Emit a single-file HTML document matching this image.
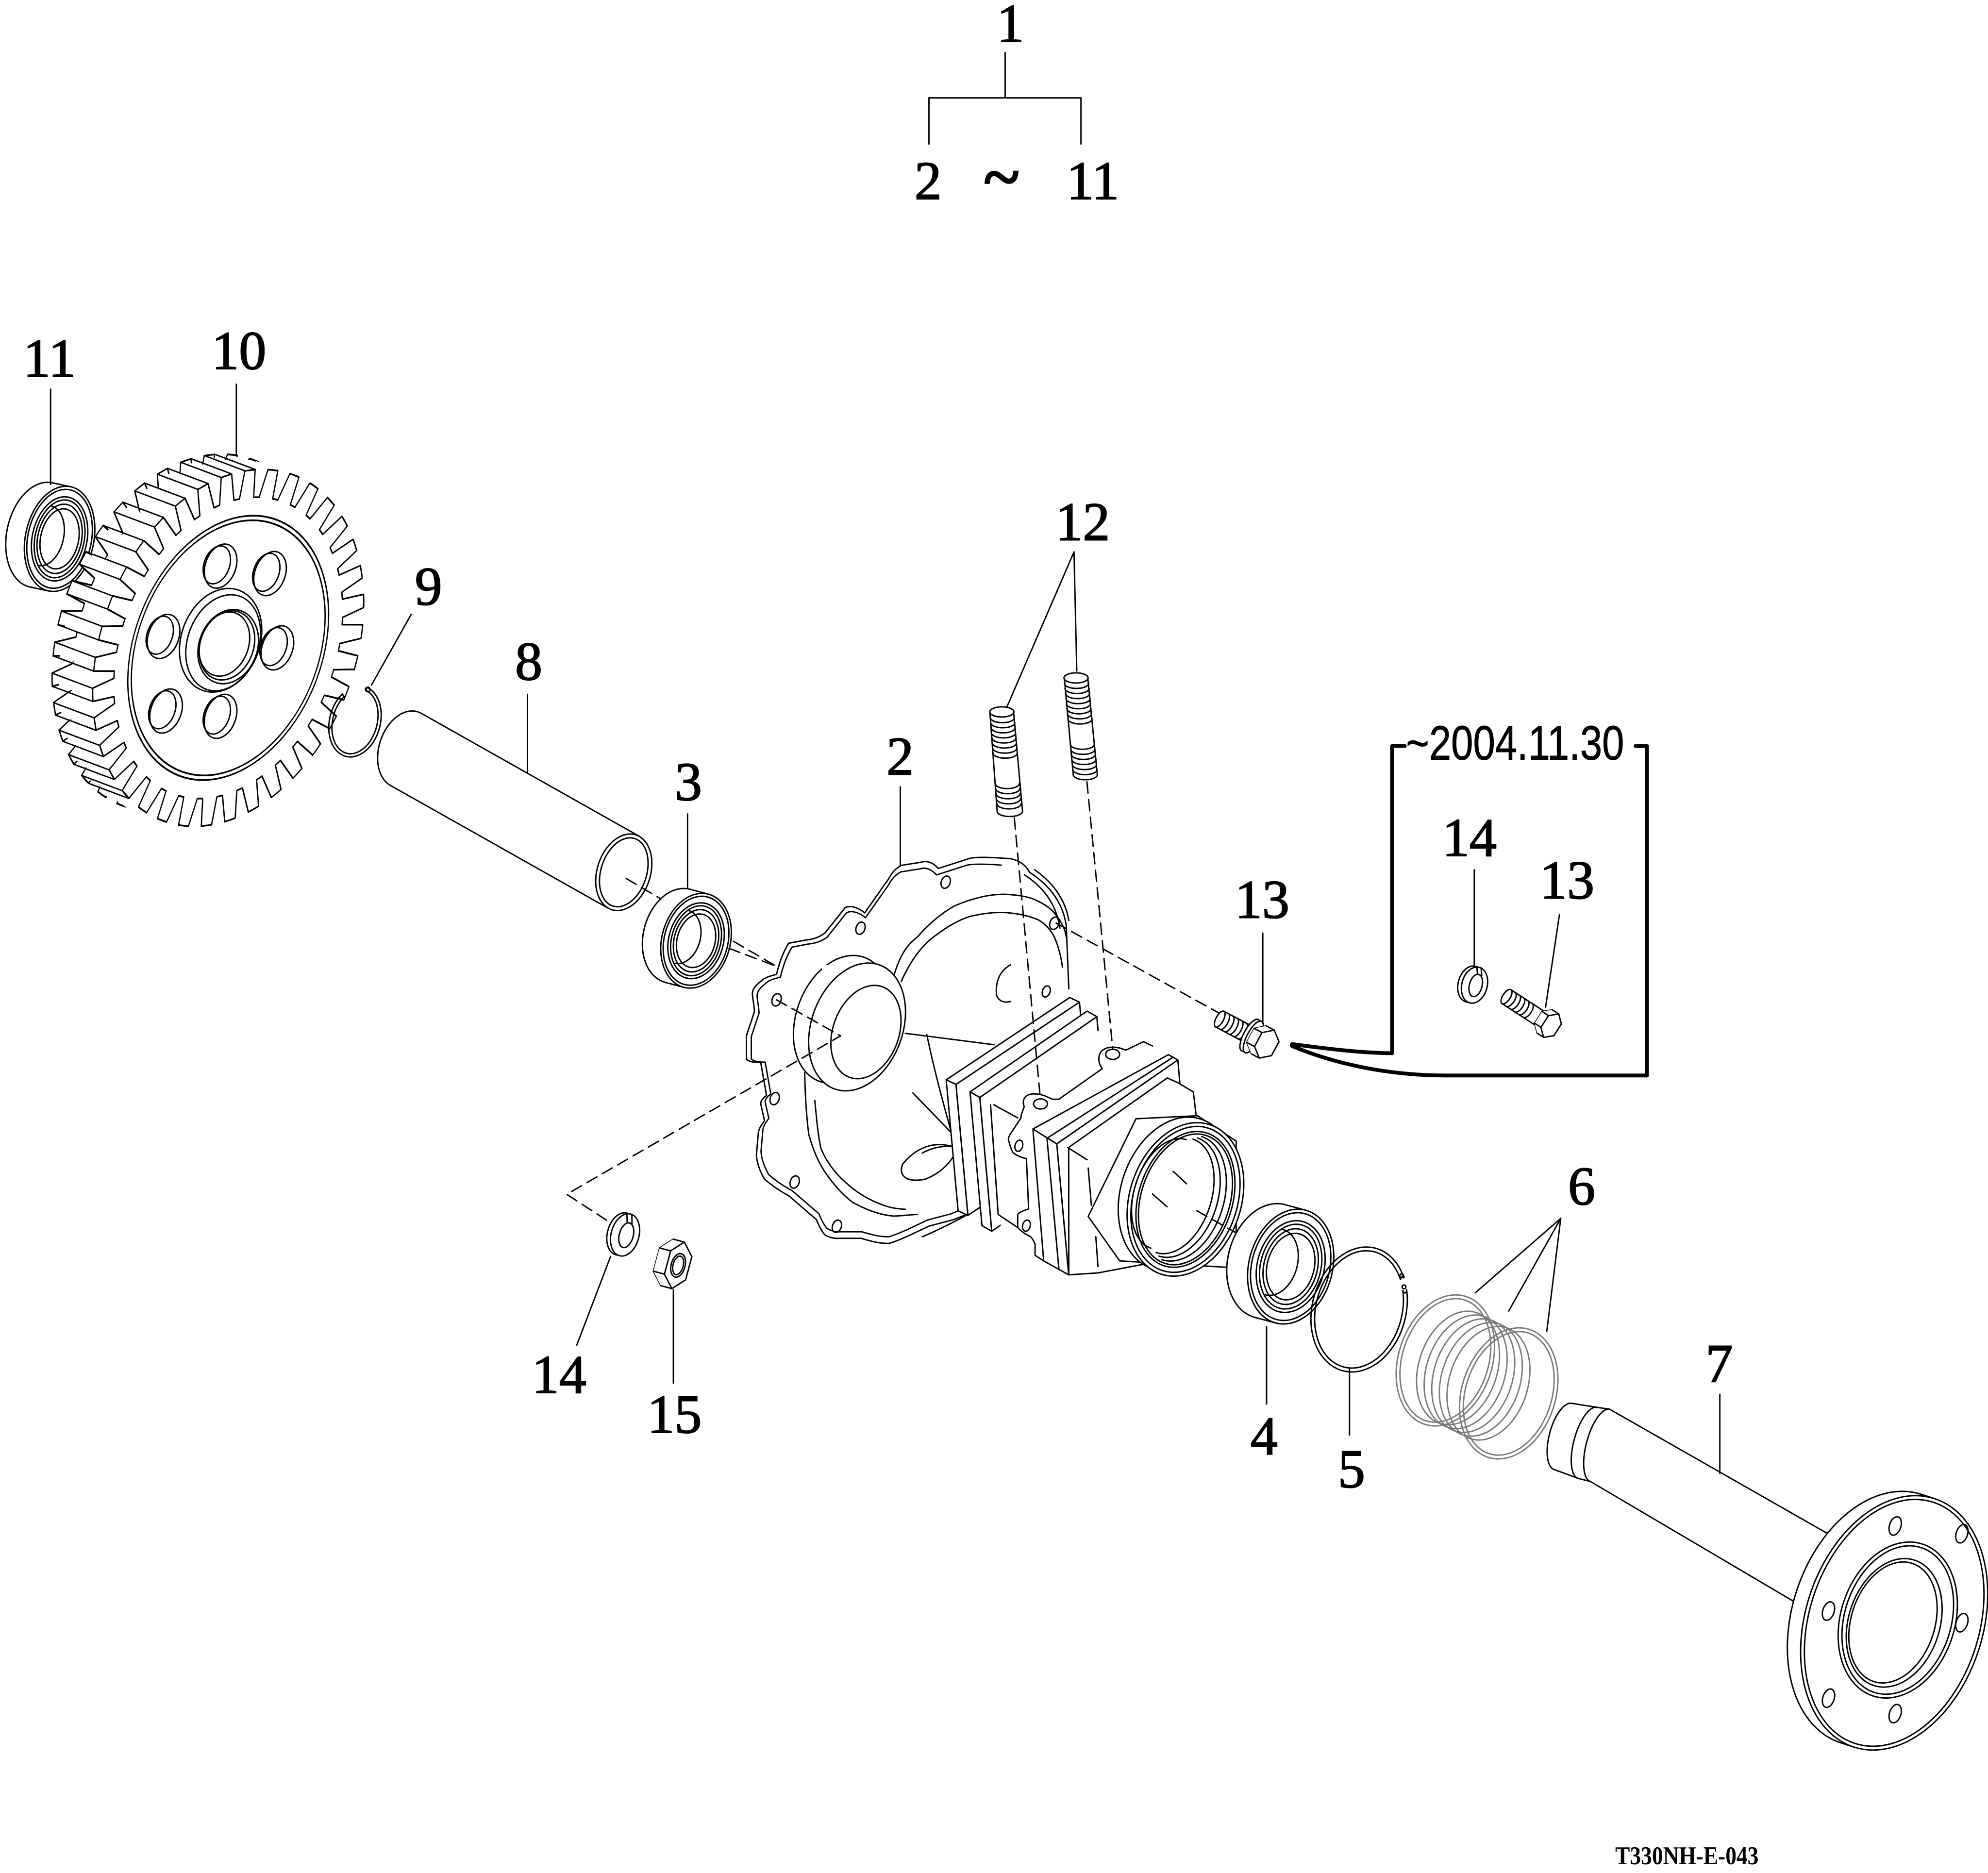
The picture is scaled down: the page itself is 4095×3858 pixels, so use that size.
<!DOCTYPE html>
<html><head><meta charset="utf-8">
<style>
html,body{margin:0;padding:0;background:#fff;}
svg{display:block;}
.t{font-family:"Liberation Serif",serif;font-size:43px;fill:#000;stroke:#000;stroke-width:0.8;text-anchor:middle;}
</style></head><body>
<svg width="4095" height="3858" viewBox="0 0 1568 1477.3" preserveAspectRatio="none" xmlns="http://www.w3.org/2000/svg">
<defs>
<path id="tooth" d="M113.57,-9.94A114,114 0 0 1 113.78,-7.16L134.90,-5.18A135,135 0 0 1 134.90,5.18L113.78,7.16A114,114 0 0 1 113.57,9.94"/>
<g id="teeth">
<use href="#tooth"/><use href="#tooth" transform="rotate(10)"/><use href="#tooth" transform="rotate(20)"/><use href="#tooth" transform="rotate(30)"/><use href="#tooth" transform="rotate(40)"/><use href="#tooth" transform="rotate(50)"/><use href="#tooth" transform="rotate(60)"/><use href="#tooth" transform="rotate(70)"/><use href="#tooth" transform="rotate(80)"/><use href="#tooth" transform="rotate(90)"/><use href="#tooth" transform="rotate(100)"/><use href="#tooth" transform="rotate(110)"/><use href="#tooth" transform="rotate(120)"/><use href="#tooth" transform="rotate(130)"/><use href="#tooth" transform="rotate(140)"/><use href="#tooth" transform="rotate(150)"/><use href="#tooth" transform="rotate(160)"/><use href="#tooth" transform="rotate(170)"/><use href="#tooth" transform="rotate(180)"/><use href="#tooth" transform="rotate(190)"/><use href="#tooth" transform="rotate(200)"/><use href="#tooth" transform="rotate(210)"/><use href="#tooth" transform="rotate(220)"/><use href="#tooth" transform="rotate(230)"/><use href="#tooth" transform="rotate(240)"/><use href="#tooth" transform="rotate(250)"/><use href="#tooth" transform="rotate(260)"/><use href="#tooth" transform="rotate(270)"/><use href="#tooth" transform="rotate(280)"/><use href="#tooth" transform="rotate(290)"/><use href="#tooth" transform="rotate(300)"/><use href="#tooth" transform="rotate(310)"/><use href="#tooth" transform="rotate(320)"/><use href="#tooth" transform="rotate(330)"/><use href="#tooth" transform="rotate(340)"/><use href="#tooth" transform="rotate(350)"/>
</g>
<path id="flange" d="M793,677 C780,676 770,676 765,677 L740,685 C735,679 729,679 727,680 L711,682.5 C706,685 703,689 701,693 L682,720 C676,715 670,714 666.5,716 L650.6,736 C645,740 640,741 634.7,741.6 L622,744 C617,752 614,762 612.5,768.5 C607,770 603,771 600,774 C595,778 593,781 593.5,785 C594,790 595,794 595,798 L588.7,817 L588.7,835.6 C592,838 596,838 600,838 L604.6,864 C602,866 600,868 600,870.6 L603,884 C600,888 598,891 598,895 L596.6,911 C597,918 600,925 603,930 C610,936 616,940 622,943 L644,962 C646,967 648,971 650.6,974 C654,976 658,977 661.7,976.7 L679,976.7 C687,979 694,981 701.4,980.7 C713,977 724,971 733,967 L752,962 L762,958"/>
</defs>
<rect x="0" y="0" width="1568" height="1477.3" fill="#fff"/>

<g fill="none" stroke="#000" stroke-width="1.1" stroke-linejoin="round" stroke-linecap="round">

<!-- top bracket -->
<path d="M792.8,41.5V77.2M732.7,113.6V77.2H852.6V113.6"/>

<!-- Bearing 11 -->
<g transform="translate(47,425) rotate(12)">
<ellipse cx="-15" rx="27" ry="42" fill="#fff"/>
<rect x="-15" y="-42" width="15" height="84" fill="#fff" stroke="none"/>
<path d="M-15,-42H0M-15,42H0"/>
<ellipse rx="27" ry="42" fill="#fff"/>
<ellipse rx="25.1" ry="39.5"/>
<ellipse rx="21.6" ry="33.6"/>
<ellipse rx="19.4" ry="31.1"/>
<ellipse rx="17.3" ry="27.7"/>
<ellipse rx="15" ry="24"/>
<path d="M-12,-24A15,24 0 0 1 -12,24"/>
</g>

<!-- Gear 10 back -->
<g transform="translate(148,499) rotate(21) scale(0.74,1.08)" fill="#fff" stroke-width="1.3">
<circle r="114.5" stroke="none"/><use href="#teeth"/>
</g>
<g fill="#fff" stroke="none">
<g transform="translate(153.3,501) rotate(21) scale(0.74,1.08)"><circle r="114.5"/><use href="#teeth"/></g>
<g transform="translate(158.7,503) rotate(21) scale(0.74,1.08)"><circle r="114.5"/><use href="#teeth"/></g>
<g transform="translate(164,505) rotate(21) scale(0.74,1.08)"><circle r="114.5"/><use href="#teeth"/></g>
<g transform="translate(169.3,507) rotate(21) scale(0.74,1.08)"><circle r="114.5"/><use href="#teeth"/></g>
<g transform="translate(174.7,509) rotate(21) scale(0.74,1.08)"><circle r="114.5"/><use href="#teeth"/></g>
</g>
<path d="M96.3,623.6l-32,-12M101.7,629.8l-32,-12M86.0,607.2l-32,-12M90.2,614.8l-32,-12M78.5,587.9l-32,-12M81.5,596.7l-32,-12M74.2,566.2l-32,-12M75.7,576.0l-32,-12M73.0,542.9l-32,-12M73.2,553.3l-32,-12M75.2,518.5l-32,-12M73.8,529.3l-32,-12M80.5,494.0l-32,-12M77.8,504.8l-32,-12M88.7,470.0l-32,-12M84.7,480.4l-32,-12M99.8,447.2l-32,-12M94.6,457.0l-32,-12M113.3,426.4l-32,-12M107.1,435.2l-32,-12M128.9,408.1l-32,-12M121.9,415.7l-32,-12M145.9,393.0l-32,-12M138.3,399.2l-32,-12M164.1,381.4l-32,-12M156.1,386.0l-32,-12M182.7,373.8l-32,-12M174.5,376.6l-32,-12M201.3,370.3l-32,-12M193.1,371.3l-32,-12"/>
<!-- Gear front -->
<g transform="translate(180,511) rotate(21) scale(0.74,1.08)" fill="#fff" stroke-width="1.3">
<circle r="114.5" stroke="none"/><use href="#teeth"/>
<circle r="100" fill="none"/><circle r="96.5" fill="none"/>
</g>
<!-- gear holes -->
<g>
<ellipse cx="174" cy="446.5" rx="12" ry="18" transform="rotate(20 174 446.5)"/>
<ellipse cx="171" cy="445.5" rx="10" ry="15.5" transform="rotate(20 171 445.5)"/>
<ellipse cx="213" cy="452.4" rx="12" ry="18" transform="rotate(20 213 452.4)"/>
<ellipse cx="210" cy="451.4" rx="10" ry="15.5" transform="rotate(20 210 451.4)"/>
<ellipse cx="129" cy="502" rx="12" ry="18" transform="rotate(20 129 502)"/>
<ellipse cx="126" cy="501" rx="10" ry="15.5" transform="rotate(20 126 501)"/>
<ellipse cx="218.8" cy="511" rx="12" ry="18" transform="rotate(20 218.8 511)"/>
<ellipse cx="215.8" cy="510" rx="10" ry="15.5" transform="rotate(20 215.8 510)"/>
<ellipse cx="131" cy="560.8" rx="12" ry="18" transform="rotate(20 131 560.8)"/>
<ellipse cx="128" cy="559.8" rx="10" ry="15.5" transform="rotate(20 128 559.8)"/>
<ellipse cx="174" cy="565" rx="12" ry="18" transform="rotate(20 174 565)"/>
<ellipse cx="171" cy="564" rx="10" ry="15.5" transform="rotate(20 171 564)"/>
</g>
<!-- hub -->
<ellipse cx="174" cy="505" rx="31" ry="42" transform="rotate(20 174 505)" fill="#fff"/>
<ellipse cx="176" cy="507" rx="28" ry="39" transform="rotate(20 176 507)"/>
<ellipse cx="180" cy="510" rx="23" ry="30" transform="rotate(20 180 510)"/>
<ellipse cx="179" cy="509" rx="21" ry="28" transform="rotate(20 179 509)"/>
<ellipse cx="177" cy="508" rx="19" ry="26" transform="rotate(20 177 508)"/>

<!-- Ring 9 -->
<g transform="translate(280,569) rotate(15)">
<path d="M2.09,-28.34A20,28.5 0 1 1 -15.32,-18.32"/>
<path d="M1.83,-25.86A17.5,26 0 1 1 -13.4,-16.71"/>
<path d="M2.09,-28.34L1.83,-25.86M-15.32,-18.32L-13.4,-16.71"/>
<circle cx="3.2" cy="-27" r="1.8"/>
</g>

<!-- Tube 8 -->
<path d="M332.2,562.6L504.2,659.6M307.8,619.4L479.8,716.4"/>
<path d="M332.2,562.6A21,31 18 0 0 307.8,619.4"/>
<ellipse cx="492" cy="688" rx="21" ry="31" transform="rotate(18 492 688)"/>
<ellipse cx="492" cy="688" rx="18" ry="28" transform="rotate(18 492 688)"/>

<!-- dashed axis (behind bearing 3) -->
<path d="M494,693L612,762" stroke-dasharray="9 5"/>

<!-- Bearing 3 -->
<g transform="translate(549,742) rotate(15)">
<ellipse cx="-15" rx="27" ry="38" fill="#fff"/>
<rect x="-15" y="-38" width="15" height="76" fill="#fff" stroke="none"/>
<path d="M-15,-38H0M-15,38H0"/>
<ellipse rx="27" ry="38" fill="#fff"/>
<ellipse rx="25.1" ry="35.7"/>
<ellipse rx="21.6" ry="30.4"/>
<ellipse rx="19.4" ry="28.1"/>
<ellipse rx="17.3" ry="25"/>
<ellipse rx="15" ry="21.5"/>
<path d="M-12,-21.5A15,21.5 0 0 1 -12,21.5"/>
</g>

<!-- Housing 2 flange -->
<use href="#flange"/>
<use href="#flange" transform="translate(700 830) scale(0.965) translate(-700 -830)"/>
<path d="M793,677C800,677 808,680 812,688C826,697 838,710 841,730L843,780M816,686C829,695 840,708 843,726M808,690C822,699 833,712 836,732"/>
<!-- inner curves -->
<path d="M704.6,771C710,752 716,745 723.6,739C735,726 745,719 752.2,714.8C768,708 782,705 793.5,705.4C803,706 810,707 815.7,709.4C824,713 829,717 831.6,720C838,728 840,733 841,739"/>
<path d="M710.9,774C718,758 726,748 733.1,741.6C745,732 755,726 765,722.8C777,720 787,719 796.6,720.1C806,721 813,723 818.9,725.5C825,729 829,734 831.6,739C835,747 837,755 838,763"/>
<path d="M634.7,846C635,862 636,880 637.9,894.7C641,906 645,916 650.6,924.3C658,935 665,943 672.8,948.5C683,954 693,958 704.6,959.2C712,959 718,958 723.6,957.9"/>
<path d="M642.7,868C644,882 645,894 647.4,905.5C652,917 660,927 669.7,935C679,943 689,948 698.2,951.1C704,953 709,953.5 714.1,953.8"/>
<path d="M714,815L784,824M731,816C737,845 744,870 750,892M720,862L750,893M727.5,909.5C735,905 743,904 750,904"/>
<path d="M750,904C735,900 722,906 712,918C708,928 716,933 730,930C740,926 747,920 752,912"/>
<path d="M797,761C788,766 785,775 786,785C788,790 792,791 797,790"/>
<path d="M727.5,975.5C745,968 760,960 773.7,952"/>
<!-- flange holes -->
<g>
<ellipse cx="745.9" cy="695.8" rx="3.5" ry="5" transform="rotate(20 745.9 695.8)"/>
<ellipse cx="678.7" cy="732.1" rx="3.5" ry="5" transform="rotate(20 678.7 732.1)"/>
<ellipse cx="612.5" cy="788.6" rx="3.5" ry="5" transform="rotate(20 612.5 788.6)"/>
<ellipse cx="611" cy="866.5" rx="3.5" ry="5" transform="rotate(20 611 866.5)"/>
<ellipse cx="626.8" cy="932.3" rx="3.5" ry="5" transform="rotate(20 626.8 932.3)"/>
<ellipse cx="660.1" cy="967.2" rx="3.5" ry="5" transform="rotate(20 660.1 967.2)"/>
<ellipse cx="831.6" cy="728.2" rx="3.5" ry="5" transform="rotate(20 831.6 728.2)"/>
<ellipse cx="825.2" cy="782" rx="3" ry="4.5" transform="rotate(20 825.2 782)"/>
</g>
<!-- boss (cylinder) -->
<ellipse cx="664" cy="804" rx="36" ry="52" transform="rotate(20 664 804)" fill="#fff"/>
<polygon points="646,758 658,764 694,856 682,850" fill="#fff" stroke="none"/>
<ellipse cx="676" cy="810" rx="36" ry="52" transform="rotate(20 676 810)" fill="#fff"/>
<ellipse cx="683" cy="814" rx="26" ry="38" transform="rotate(20 683 814)"/>
<path d="M612.5,788.6L663,817L447,942L487,968" stroke-dasharray="9 5"/>
<path d="M575,748L612,762" stroke-dasharray="9 5"/>

<!-- Block: plate 1a -->
<polygon points="754,855.3 851.4,790.4 860.8,893.7 763.4,958.6" fill="#fff"/>
<polygon points="746.3,851.7 843.7,786.8 851.4,790.4 754,855.3" fill="#fff"/>
<polygon points="746.3,851.7 754,855.3 763.4,958.6 755.7,955" fill="#fff"/>
<!-- plate 1b -->
<polygon points="772.8,865.6 865.1,801.9 874.5,907.4 782.2,971.1" fill="#fff"/>
<polygon points="765.1,861.2 857.4,797.5 865.1,801.9 772.8,865.6" fill="#fff"/>
<polygon points="765.1,861.2 772.8,865.6 782.2,971.1 774.5,966.7" fill="#fff"/>
<!-- neck -->
<polygon points="781,870 868,812 910,826 929,836 833.5,902.2 843,1005 823,994.5 790,975 781,872" fill="#fff" stroke="none"/>
<path d="M781.3,871.4L787.3,957.9L802.7,968.2M783.9,871.4L802.7,881.7"/>
<path d="M807.8,872.9C806,868 808,864 813,863C820,862 826,865 830,867L835.2,867L869.4,842.9C866,838 866,834 868,830C871,826 876,826 878,826C884,826 886,828 888.2,828.2L901.9,821.6L909,825"/>
<path d="M807.8,872.9C806,878 805,880 805.3,881.7L797.6,893.4C795,897 795,899 795.9,900.7C797,905 798,908 799.3,909.5C803,912 806,913 809.6,913.9L811.3,953.5C807,955 804,956 802.7,957.9L802.7,968.2C806,972 810,974 813,975.5C815,978 816,980 816.4,981.3L816.4,990.1L823.2,994.5"/>
<ellipse cx="803.6" cy="903.7" rx="3" ry="4.5" transform="rotate(15 803.6 903.7)"/>
<ellipse cx="809.6" cy="966.7" rx="3" ry="4.5" transform="rotate(15 809.6 966.7)"/>
<ellipse cx="820.7" cy="870.7" rx="5.5" ry="4"/>
<ellipse cx="877.6" cy="831.6" rx="5.5" ry="4"/>
<!-- plate 2 -->
<polygon points="833.5,902.2 929,836 938,940 842.9,1005.5" fill="#fff"/>
<polygon points="814.7,890.5 921.5,831.9 929,836 833.5,902.2" fill="#fff"/>
<path d="M825.8,897.8L925,834"/>
<polygon points="814.7,890.5 833.5,902.2 842.9,1005.5 823.2,994.5" fill="#fff"/>
<path d="M825.8,897.8L835.2,1001.1"/>
<!-- body -->
<polygon points="842.9,905 920.7,850.2 929,854 941.2,861.2 943.7,882 940,990 866,1004 843,1005.5" fill="#fff"/>
<path d="M842,905L857.4,914.7M858.3,921.3L860.8,950.6M864.3,975.5L866,998.9"/>
<!-- collar plate -->
<polygon points="896,882.4 944.5,880 975,900 975,1000 883.1,994.5 858.3,959.4" fill="#fff"/>
<!-- collar ring -->
<g transform="translate(935,946) rotate(18)">
<ellipse cx="-8" cy="-2" rx="44" ry="62" fill="#fff"/>
<rect x="-8" y="-62" width="8" height="124" fill="#fff" stroke="none"/>
<ellipse rx="44" ry="62" fill="#fff"/>
<ellipse rx="41" ry="59"/>
<ellipse rx="37" ry="55"/>
<ellipse rx="35" ry="53"/>
<path d="M-3,-51A33,51 0 0 1 -3,51M-6,-49A31,49 0 0 1 -6,49M-9,-47A29,47 0 0 1 -9,47"/>
<path d="M-14,-45A27,45 0 0 0 -14,45"/>
<path d="M-16,-18L-3,-12M-26,4L-12,10"/>
</g>

<!-- studs dashed -->
<path d="M800,645L820.5,866M857.3,616.6L877.6,827" stroke-dasharray="9 5"/>
<!-- Stud left -->
<path d="M780.8,562L786.5,640M799.5,562L806.5,640" />
<ellipse cx="790.2" cy="561.5" rx="9.5" ry="4" fill="#fff"/>
<path d="M786.5,640A10,4 0 0 0 806.5,640"/>
<path d="M781.1,566A9.5,4 0 0 0 800.1,566M781.4,570A9.5,4 0 0 0 800.4,570M781.7,574A9.5,4 0 0 0 800.7,574M782,578A9.5,4 0 0 0 801,578M782.4,582A9.5,4 0 0 0 801.4,582M782.7,586A9.5,4 0 0 0 801.7,586M783,590A9.5,4 0 0 0 802,590M783.3,594A9.5,4 0 0 0 802.3,594M785,618A9.5,4 0 0 0 804,618M785.3,622A9.5,4 0 0 0 804.3,622M785.6,626A9.5,4 0 0 0 804.6,626M785.9,630A9.5,4 0 0 0 804.9,630M786.3,634A9.5,4 0 0 0 805.3,634"/>
<!-- Stud right -->
<path d="M839.5,535L846.5,611M858,535L865.5,611"/>
<ellipse cx="848.7" cy="534.7" rx="9.5" ry="4" fill="#fff"/>
<path d="M846.5,611A9.5,4 0 0 0 865.5,611"/>
<path d="M839.6,539A9.5,4 0 0 0 858.6,539M840,543A9.5,4 0 0 0 859,543M840.4,547A9.5,4 0 0 0 859.4,547M840.8,551A9.5,4 0 0 0 859.8,551M841.1,555A9.5,4 0 0 0 860.1,555M841.5,559A9.5,4 0 0 0 860.5,559M841.9,563A9.5,4 0 0 0 860.9,563M842.3,567A9.5,4 0 0 0 861.3,567M844.2,587A9.5,4 0 0 0 863.2,587M844.6,591A9.5,4 0 0 0 863.6,591M845,595A9.5,4 0 0 0 864,595M845.4,599A9.5,4 0 0 0 864.4,599M845.8,603A9.5,4 0 0 0 864.8,603M846.2,607A9.5,4 0 0 0 865.2,607"/>

<!-- bolt 13 dashed -->
<path d="M833,728L965,801" stroke-dasharray="9 5"/>
<!-- Bolt 13 left -->
<g transform="translate(985,816) rotate(28)">
<path d="M-26,-7H2M-26,7H2"/>
<ellipse cx="-26" rx="3" ry="7" fill="#fff"/>
<path d="M-22,-7A3,7 0 0 1 -22,7M-18,-7A3,7 0 0 1 -18,7M-14,-7A3,7 0 0 1 -14,7M-10,-7A3,7 0 0 1 -10,7M-6,-7A3,7 0 0 1 -6,7"/>
<ellipse cx="1" rx="5" ry="14" fill="#fff"/>
<ellipse cx="4" rx="5" ry="14" fill="#fff"/>
<polygon points="16.6,6.25 9,12.5 1.4,6.25 1.4,-6.25 9,-12.5 16.6,-6.25" fill="#fff"/>
<polygon points="1.4,-6.25 9,-12.5 16,-12.5 23.6,-6.25 23.6,6.25 16,12.5 9,12.5 1.4,6.25" fill="#fff" stroke="none"/>
<path d="M9,-12.5H16M9,12.5H16M1.4,6.25H8.4M1.4,-6.25H8.4"/>
<polygon points="23.6,6.25 16,12.5 8.4,6.25 8.4,-6.25 16,-12.5 23.6,-6.25" fill="#fff"/>
</g>

<!-- collar -> bearing 4 dashed -->
<path d="M944,955L985,978" stroke-dasharray="9 5"/>
<!-- Bearing 4 -->
<g transform="translate(1018,999) rotate(15)">
<ellipse cx="-17" rx="33" ry="46" fill="#fff"/>
<rect x="-17" y="-46" width="17" height="92" fill="#fff" stroke="none"/>
<path d="M-17,-46H0M-17,46H0"/>
<ellipse rx="33" ry="46" fill="#fff"/>
<ellipse rx="30.7" ry="43.2"/>
<ellipse rx="26.4" ry="36.8"/>
<ellipse rx="23.8" ry="34"/>
<ellipse rx="21.1" ry="30.4"/>
<ellipse rx="18.5" ry="26.7"/>
<path d="M-13.6,-26.7A18.5,26.7 0 0 1 -13.6,26.7"/>
</g>

<!-- Ring 5 -->
<g transform="translate(1072,1033) rotate(15)">
<path d="M32.04,-25A37,50 0 1 1 27.5,-33.5"/>
<path d="M29.4,-23.5A34,47 0 1 1 25.3,-31.4"/>
<path d="M32.04,-25C33,-22 31,-21 29.4,-23.5M27.5,-33.5C28,-36 25,-34 25.3,-31.4"/>
<circle cx="29.5" cy="-26.5" r="1.5"/>
<circle cx="25.5" cy="-34.5" r="1.5"/>
</g>

<!-- Rings 6 (grey) -->
<g stroke="#7a7a7a">
<ellipse cx="1140" cy="1073" rx="37" ry="53" transform="rotate(18 1140 1073)"/>
<ellipse cx="1140" cy="1073" rx="34" ry="50" transform="rotate(18 1140 1073)"/>
<ellipse cx="1150" cy="1079" rx="31" ry="46" transform="rotate(18 1150 1079)"/>
<ellipse cx="1156" cy="1082" rx="31" ry="46" transform="rotate(18 1156 1082)"/>
<ellipse cx="1162" cy="1085" rx="31" ry="46" transform="rotate(18 1162 1085)"/>
<ellipse cx="1168" cy="1088" rx="31" ry="46" transform="rotate(18 1168 1088)"/>
<ellipse cx="1174" cy="1091" rx="31" ry="46" transform="rotate(18 1174 1091)"/>
<ellipse cx="1190" cy="1099" rx="37" ry="53" transform="rotate(18 1190 1099)"/>
<ellipse cx="1190" cy="1099" rx="34" ry="50" transform="rotate(18 1190 1099)"/>
</g>

<!-- Shaft 7 -->
<path d="M1269.6,1111.5L1465,1223M1254.4,1168.5L1435,1275"/>
<path d="M1240,1106.9A11,27 15 0 0 1226,1159.1"/>
<path d="M1240,1106.9L1259.5,1110M1226,1159.1L1244.5,1166"/>
<path d="M1259.5,1110A11,29 15 0 0 1244.5,1166"/>
<path d="M1259.5,1110L1269.6,1111.5M1244.5,1166L1254.4,1168.5"/>
<path d="M1269.6,1111.5A11,29.5 15 0 0 1254.4,1168.5"/>
<g transform="translate(1494,1280) rotate(18)">
<ellipse cx="-11" rx="70" ry="103" fill="#fff"/>
<rect x="-11" y="-103" width="11" height="206" fill="#fff" stroke="none"/>
<path d="M-11,-103H0M-11,103H0"/>
<ellipse rx="70" ry="103" fill="#fff"/>
<ellipse rx="67" ry="100"/>
<ellipse cx="2" cy="-3" rx="45" ry="63"/>
<ellipse cx="2" cy="-3" rx="42" ry="60"/>
<ellipse rx="36" ry="52"/>
<ellipse cx="-1" rx="33" ry="49"/>
</g>
<g>
<ellipse cx="1494.8" cy="1203.6" rx="4.5" ry="7.5" transform="rotate(18 1494.8 1203.6)"/>
<ellipse cx="1547.4" cy="1209.7" rx="4.5" ry="7.5" transform="rotate(18 1547.4 1209.7)"/>
<ellipse cx="1442.2" cy="1270.7" rx="4.5" ry="7.5" transform="rotate(18 1442.2 1270.7)"/>
<ellipse cx="1547.4" cy="1279.9" rx="4.5" ry="7.5" transform="rotate(18 1547.4 1279.9)"/>
<ellipse cx="1442.2" cy="1339.4" rx="4.5" ry="7.5" transform="rotate(18 1442.2 1339.4)"/>
<ellipse cx="1494.8" cy="1351.6" rx="4.5" ry="7.5" transform="rotate(18 1494.8 1351.6)"/>
</g>

<!-- Washer 14 (bottom) -->
<g transform="translate(493,974) rotate(15)">
<ellipse cx="-3" rx="11" ry="17" fill="#fff"/>
<ellipse rx="11" ry="17" fill="#fff"/>
<ellipse cx="1" rx="5.5" ry="10"/>
<path d="M-3,-17L-1,-10M1,-17L3,-10"/>
</g>
<!-- Nut 15 -->
<g transform="translate(531,997) rotate(15)">
<polygon points="3.66,9.5 -5,19 -13.66,9.5 -13.66,-9.5 -5,-19 3.66,-9.5" fill="#fff"/>
<polygon points="-13.66,-9.5 -5,-19 4,-19 12.66,-9.5 12.66,9.5 4,19 -5,19 -13.66,9.5" fill="#fff" stroke="none"/>
<path d="M-5,-19H4M-5,19H4M-13.66,9.5H-4.66M-13.66,-9.5H-4.66"/>
<polygon points="12.66,9.5 4,19 -4.66,9.5 -4.66,-9.5 4,-19 12.66,-9.5" fill="#fff"/>
<ellipse cx="4" rx="5.5" ry="9.5"/>
<ellipse cx="4" rx="4" ry="7.5"/>
</g>

<!-- Box ~2004.11.30 -->
<path d="M1108,588.4H1098V830.7C1075,830.7 1045,827 1019,823.5" stroke-width="3"/>
<path d="M1019,825C1050,838 1092,848.3 1141,848.3H1299V588.4H1290" stroke-width="3"/>
<!-- washer 14 in box -->
<g transform="translate(1163,777) rotate(15)">
<ellipse cx="-3" rx="10" ry="14.5" fill="#fff"/>
<ellipse rx="10" ry="14.5" fill="#fff"/>
<ellipse cx="1" rx="5" ry="9"/>
<path d="M-2,-14.5L0,-9M1.5,-14.5L3.5,-9"/>
</g>
<!-- bolt 13 in box -->
<g transform="translate(1205,797) rotate(33)">
<path d="M-20,-6.5H14M-20,6.5H14"/>
<ellipse cx="-20" rx="3" ry="6.5" fill="#fff"/>
<path d="M-16,-6.5A3,6.5 0 0 1 -16,6.5M-12,-6.5A3,6.5 0 0 1 -12,6.5M-8,-6.5A3,6.5 0 0 1 -8,6.5M-4,-6.5A3,6.5 0 0 1 -4,6.5M0,-6.5A3,6.5 0 0 1 0,6.5"/>
<polygon points="22.06,5.5 16,11 9.94,5.5 9.94,-5.5 16,-11 22.06,-5.5" fill="#fff"/>
<polygon points="9.94,-5.5 16,-11 22,-11 28.06,-5.5 28.06,5.5 22,11 16,11 9.94,5.5" fill="#fff" stroke="none"/>
<path d="M16,-11H22M16,11H22M9.94,5.5H15.94M9.94,-5.5H15.94"/>
<polygon points="28.06,5.5 22,11 15.94,5.5 15.94,-5.5 22,-11 28.06,-5.5" fill="#fff"/>
</g>

<!-- Leaders -->
<path d="M39.9,307V382M186.4,303V358.6M324.3,484.6L293,540.3M416,547.6V608.8M542.3,642V699.8M710.1,620.6V682.4M847.1,435.3L794.2,557.5M847.1,435.3L849.3,529.3M996,736V807M1162.8,686V761.4M1230,721.3L1219,794.6M1231,961L1163.6,1019.7M1231,961L1190,1034M1231,961L1220,1050M1356.5,1099.8V1162M999,1046.3V1107.4M1064.4,1080V1131.8M481.6,991L454.9,1061M531.1,1017.4V1090.9"/>
</g>

<!-- Labels -->
<text class="t" x="797" y="33">1</text>
<text class="t" x="732" y="157">2</text>
<text class="t" x="790" y="157" style="font-size:52px;stroke-width:1.6">~</text>
<text class="t" x="862" y="157">11</text>
<text class="t" x="39" y="297">11</text>
<text class="t" x="188.5" y="291">10</text>
<text class="t" x="338" y="477">9</text>
<text class="t" x="417" y="536">8</text>
<text class="t" x="543" y="631">3</text>
<text class="t" x="710" y="611">2</text>
<text class="t" x="854" y="426">12</text>
<text class="t" x="995.5" y="724">13</text>
<text class="t" x="1159" y="675">14</text>
<text class="t" x="1236" y="708.6">13</text>
<text class="t" x="1247.5" y="950">6</text>
<text class="t" x="1356" y="1090">7</text>
<text class="t" x="997" y="1147">4</text>
<text class="t" x="1066" y="1173">5</text>
<text class="t" x="441" y="1098.6">14</text>
<text class="t" x="532" y="1130">15</text>
<text x="1109" y="599" font-family="Liberation Sans, sans-serif" font-size="38" textLength="172" lengthAdjust="spacingAndGlyphs" fill="#000" stroke="#000" stroke-width="0.4">~2004.11.30</text>
<text x="1274" y="1470.4" font-family="Liberation Serif, serif" font-weight="bold" font-size="20.3" textLength="113" lengthAdjust="spacingAndGlyphs" fill="#000">T330NH-E-043</text>
</svg>
</body></html>
